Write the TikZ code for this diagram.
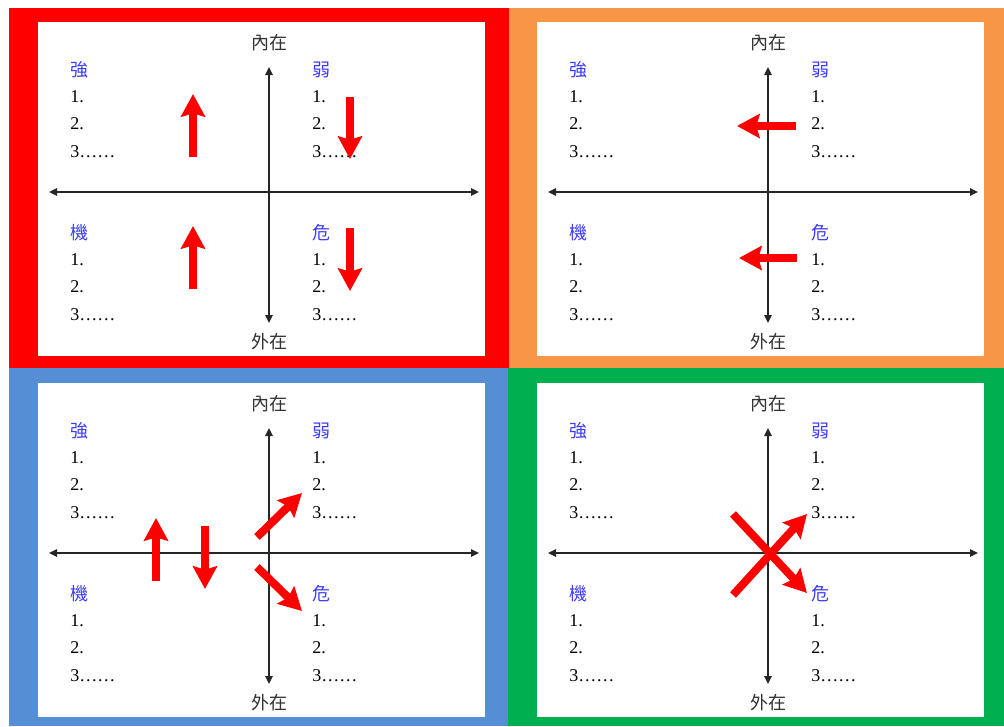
\documentclass[tikz,border=0pt]{standalone}
\usepackage{fontspec}
\setmainfont{Liberation Serif}
\newfontfamily\cjk{Noto Sans CJK TC}
\usetikzlibrary{arrows.meta}
\definecolor{swotred}{RGB}{255,0,0}
\definecolor{swotorange}{RGB}{247,150,70}
\definecolor{swotblue}{RGB}{85,142,213}
\definecolor{swotgreen}{RGB}{0,176,80}
\definecolor{headblue}{RGB}{60,60,255}
\tikzset{
  axis/.style={draw=black!85, line width=1.1pt,
    {Triangle[length=6pt,width=5.5pt]}-{Triangle[length=6pt,width=5.5pt]}},
  move/.style={draw=red, line width=6pt,
    -{Stealth[length=17pt,width=18pt,inset=2.5pt]}},
  item/.style={anchor=west, inner sep=0pt, font=\fontsize{13.5}{16}\selectfont},
  head/.style={anchor=west, inner sep=0pt, text=headblue, font=\cjk\fontsize{13.5}{16}\selectfont},
  pole/.style={inner sep=0pt, text=black!80, font=\cjk\fontsize{13.5}{16}\selectfont},
}
\begin{document}
\begin{tikzpicture}[x=0.75pt, y=-0.75pt]
  \useasboundingbox (0,0) rectangle (1004,726);
  \fill[white] (0,0) rectangle (1004,726);
  % four panels, same quadrant chart in each
  \foreach \n/\dx/\dy/\xa/\ya/\xb/\yb/\col in {a/0/0/9/8/509/368/swotred,
      b/499/0/509/8/1004/368/swotorange, c/0/361/9/368/508/726/swotblue,
      d/499/361/508/368/1004/726/swotgreen}{
    \fill[\col] (\xa,\ya) rectangle (\xb,\yb);
    \begin{scope}[shift={(\dx,\dy)}]
      \fill[white] (38,22) rectangle (485,356);
      \node[pole] (in\n) at (269,43) {內在};
      \node[pole] (out\n) at (269,342) {外在};
      \coordinate (top\n) at (269,67);
      \coordinate (bot\n) at (269,323);
      \coordinate (lft\n) at (49,192);
      \coordinate (rgt\n) at (479,192);
      \draw[axis] (bot\n) -- (top\n);
      \draw[axis] (lft\n) -- (rgt\n);
      \foreach \lx/\hy/\h/\q in {70/70/強/s, 312/70/弱/w, 70/233/機/o, 312/233/危/t}{
        \node[head] (\q\n) at (\lx,\hy) {\h};
        \node[item] (\q1\n) at (\lx,\hy+27) {1.};
        \node[item] (\q2\n) at (\lx,\hy+54) {2.};
        \node[item] (\q3\n) at (\lx,\hy+82) {3……};
      }
    \end{scope}
  }
  % red: push up and down
  \draw[move] (193,157) -- (193,94);
  \draw[move] (350,97) -- (350,159);
  \draw[move] (193,289) -- (193,226);
  \draw[move] (350,228) -- (350,291);
  % orange: turn to the left
  \begin{scope}[shift={(499,0)}]
    \draw[move] (297,126) -- (238,126);
    \draw[move] (298,258) -- (240,258);
  \end{scope}
  % blue
  \begin{scope}[shift={(0,361)}]
    \draw[move] (156,220) -- (156,157);
    \draw[move] (205,165) -- (205,228);
    \draw[move] (257,176) -- (302,132);
    \draw[move] (257,206) -- (302,250);
  \end{scope}
  % green: crossing
  \begin{scope}[shift={(499,361)}]
    \draw[move] (234,153) -- (308,232);
    \draw[move] (234,234) -- (308,153);
  \end{scope}
\end{tikzpicture}
\end{document}
